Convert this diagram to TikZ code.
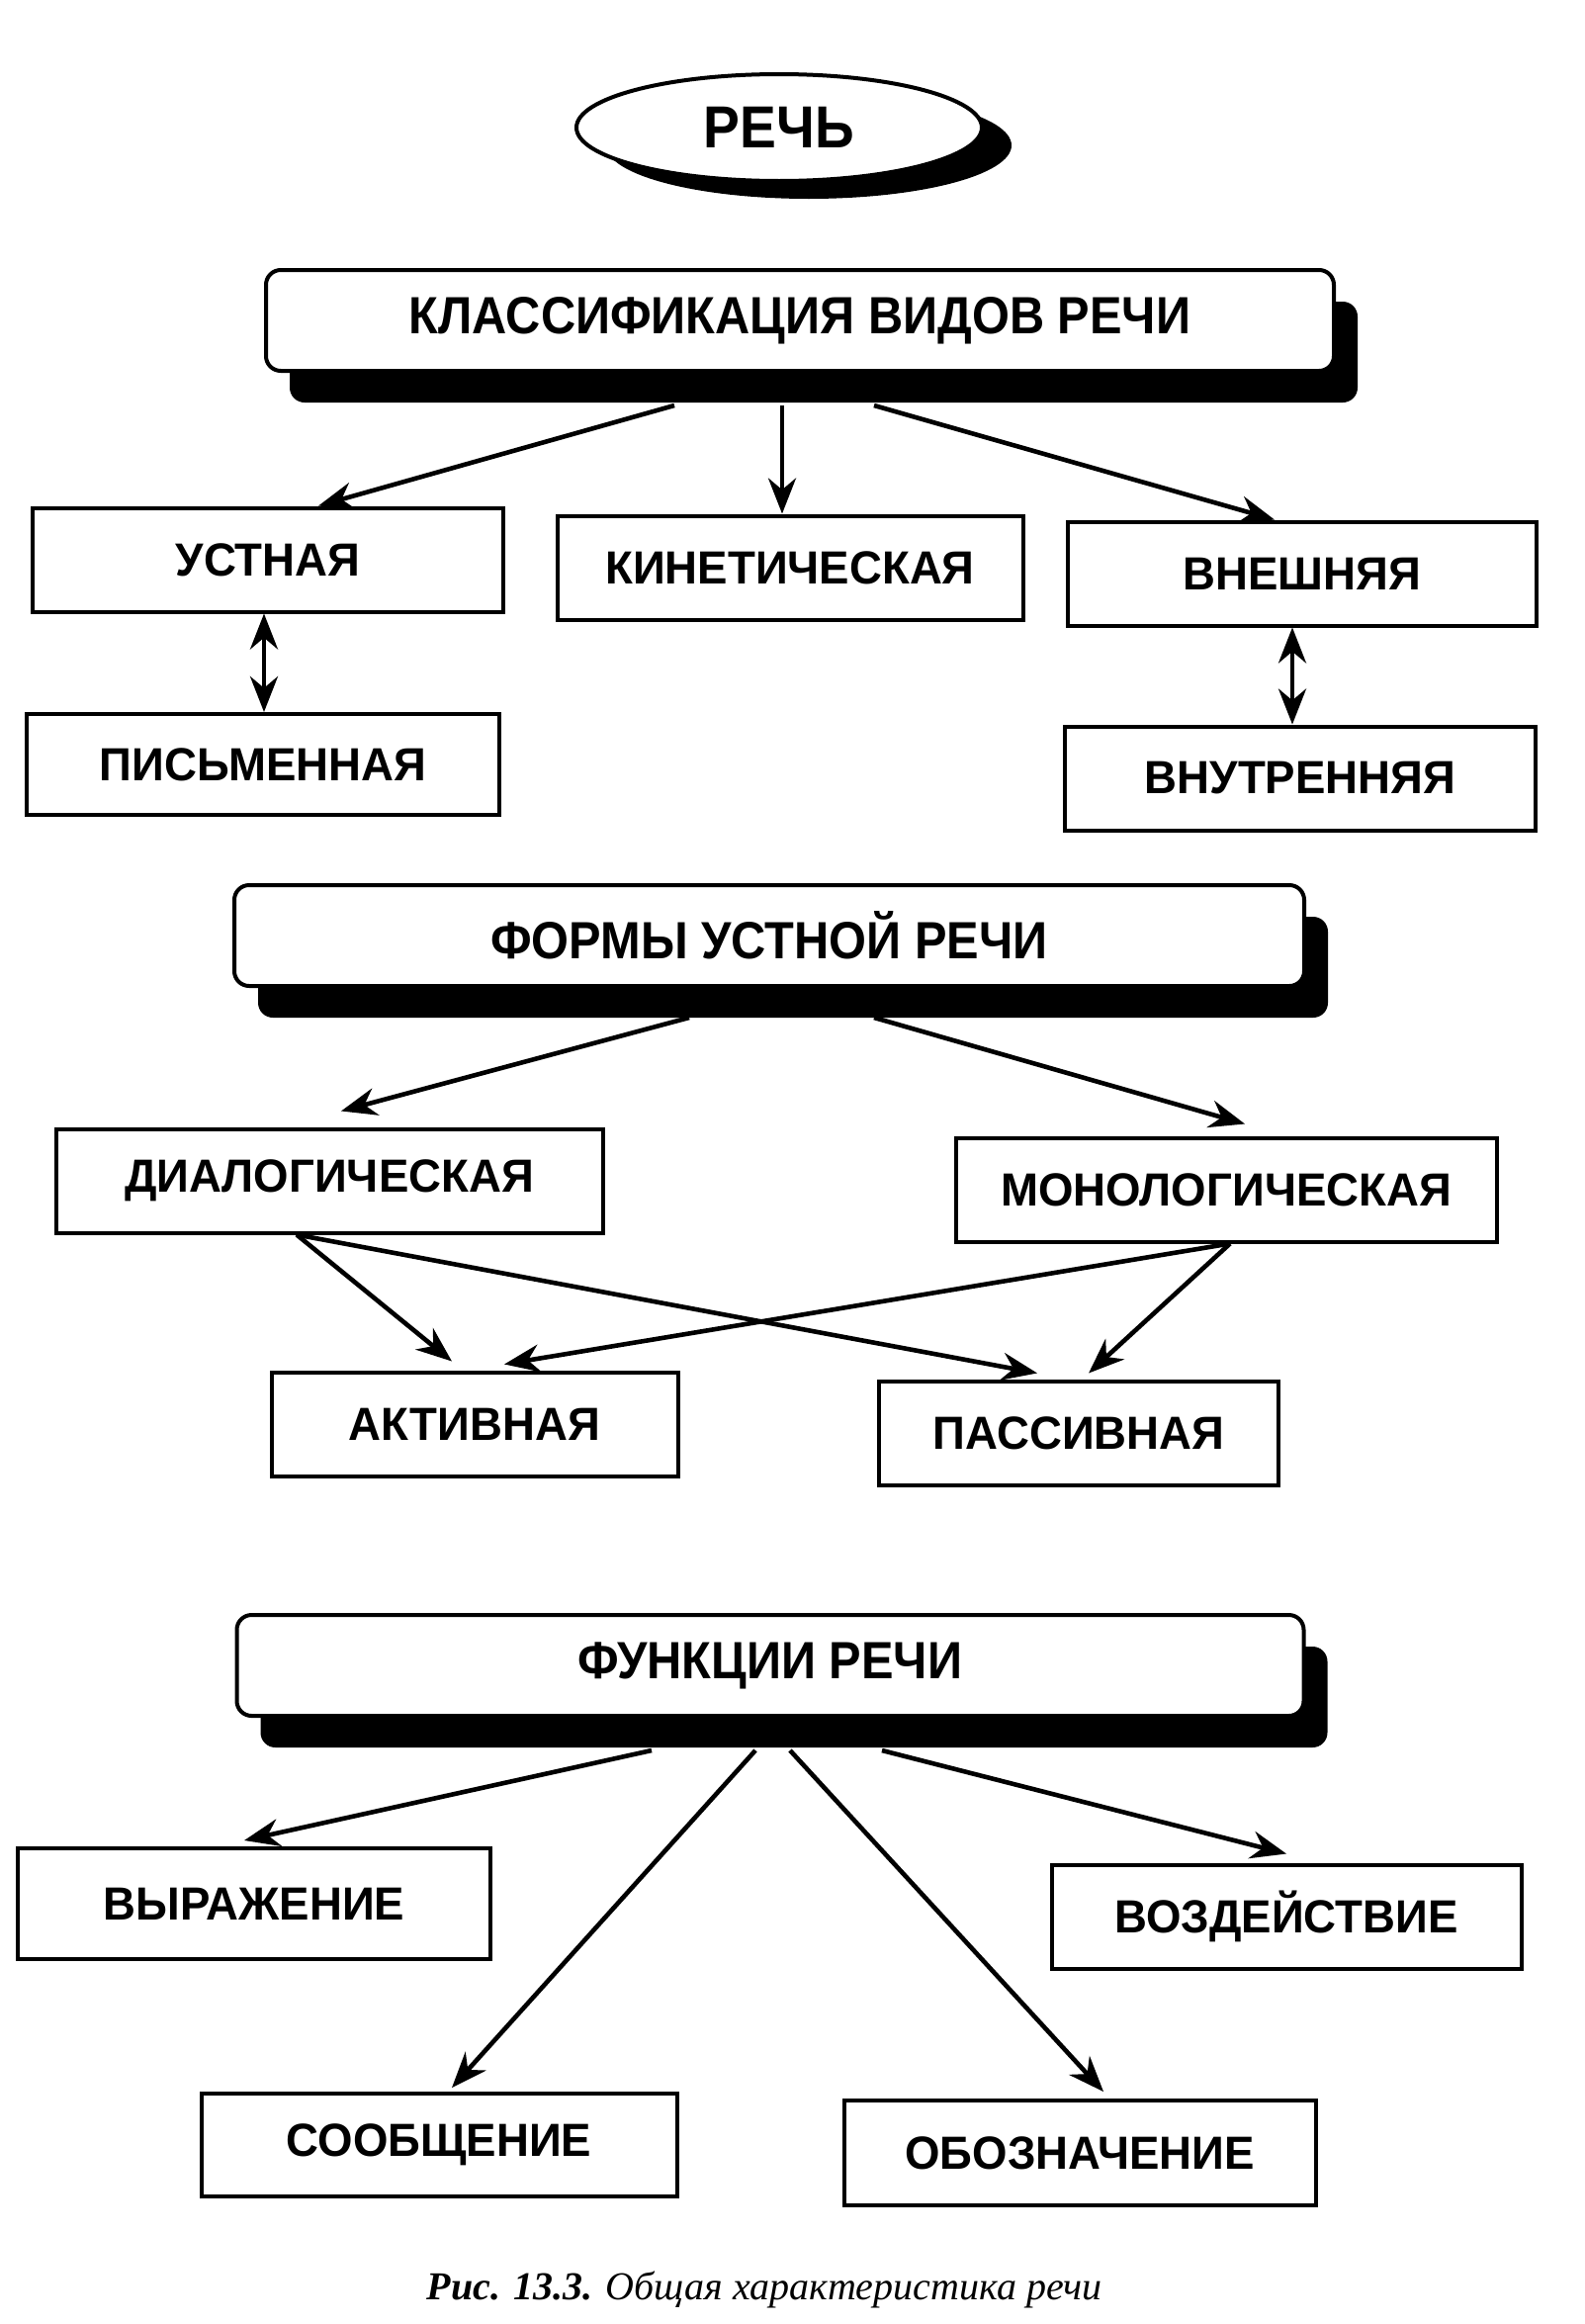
\documentclass[tikz,border=0pt]{standalone}
\usepackage{fontspec}
\setmainfont{Liberation Sans}
\newfontfamily\headfont[FakeStretch=0.92]{Liberation Sans Bold}
\newfontfamily\boxfont[FakeStretch=0.97]{Liberation Sans Bold}
\newfontfamily\capfont{Liberation Serif}
\usetikzlibrary{arrows.meta,shadows,shapes.geometric,calc}

\tikzset{
  vid/.style={draw, line width=2pt, minimum width=238pt, minimum height=52pt,
    inner sep=0pt, font=\boxfont\fontsize{23.5}{28}\selectfont},
  zag/.style={draw, line width=2pt, rounded corners=7.5pt, fill=white,
    minimum width=540pt, minimum height=51pt, inner sep=0pt,
    font=\headfont\fontsize{26.5}{30}\selectfont,
    drop shadow={shadow xshift=12pt, shadow yshift=-16pt, fill=black, opacity=1}},
  strel/.style={-{Stealth[length=18pt,width=14pt]}, line width=2.3pt},
  dvustr/.style={{Stealth[length=18pt,width=14pt]}-{Stealth[length=18pt,width=14pt]}, line width=2.3pt}
}

\begin{document}
\begin{tikzpicture}[x=0.5pt,y=0.5pt,yscale=-1]
\useasboundingbox (0,0) rectangle (1602,2350);

% Title
\node[ellipse, draw, line width=2pt, fill=white, minimum width=205pt, minimum height=54pt,
  inner sep=0pt, font=\headfont\fontsize{30}{34}\selectfont,
  drop shadow={shadow xshift=15pt, shadow yshift=-9pt, fill=black, opacity=1}] (rech) at (788,129) {РЕЧЬ};

% Classification
\node[zag] (klass) at (809,324) {КЛАССИФИКАЦИЯ ВИДОВ РЕЧИ};
\node[vid, minimum height=52.5pt] (ust) at (271,566) {УСТНАЯ};
\node[vid, minimum width=235.5pt, minimum height=52.5pt] (kin) at (799,574) {КИНЕТИЧЕСКАЯ};
\node[vid, minimum width=237pt, minimum height=52.5pt] (vnesh) at (1317,580) {ВНЕШНЯЯ};
\node[vid, minimum width=239pt, minimum height=51pt] (pis) at (266,773) {ПИСЬМЕННАЯ};
\node[vid, minimum width=238pt, minimum height=52.5pt] (vnutr) at (1315,787) {ВНУТРЕННЯЯ};

\draw[strel] ($(klass.south)+(-127,33)$) -- ($(ust.north)+(51,0)$);
\draw[strel] ($(klass.south)+(-18,33)$) -- ($(kin.north)+(-8,0)$);
\draw[strel] ($(klass.south)+(75,33)$) -- ($(vnesh.north)+(-28,0)$);
\draw[dvustr] ($(ust.south)+(-4,0)$) -- ($(pis.north)+(1,0)$);
\draw[dvustr] ($(vnesh.south)+(-10,0)$) -- ($(vnutr.north)+(-8,0)$);

% Forms of oral speech
\node[zag, minimum width=541pt] (formy) at (778,946) {ФОРМЫ УСТНОЙ РЕЧИ};
\node[vid, minimum width=276.5pt, minimum height=52.5pt] (dial) at (333,1194) {ДИАЛОГИЧЕСКАЯ};
\node[vid, minimum width=273.5pt, minimum height=52.5pt] (mono) at (1240,1203) {МОНОЛОГИЧЕСКАЯ};
\node[vid, minimum width=205.5pt, minimum height=52.5pt] (akt) at (480,1440) {АКТИВНАЯ};
\node[vid, minimum width=202pt, minimum height=52.5pt] (pass) at (1091,1449) {ПАССИВНАЯ};

\draw[strel] ($(formy.south)+(-81,30)$) -- ($(dial.north)+(12,-16)$);
\draw[strel] ($(formy.south)+(106,30)$) -- ($(mono.north)+(19,-12)$);
\draw[strel] ($(dial.south)+(-33,0)$) -- ($(akt.north)+(-23,-9)$);
\draw[strel] ($(dial.south)+(-33,0)$) -- ($(pass.north)+(-42,-6)$);
\draw[strel] ($(mono.south)+(4,0)$) -- ($(akt.north)+(30,-6)$);
\draw[strel] ($(mono.south)+(4,0)$) -- ($(pass.north)+(10,-6)$);

% Functions
\node[zag, minimum width=539.5pt] (funk) at (779,1684) {ФУНКЦИИ РЕЧИ};
\node[vid, minimum width=239pt, minimum height=56pt] (vyr) at (257,1925) {ВЫРАЖЕНИЕ};
\node[vid, minimum width=237.5pt, minimum height=52.5pt] (vozd) at (1301,1938) {ВОЗДЕЙСТВИЕ};
\node[vid, minimum width=240.5pt, minimum height=52pt] (soob) at (444,2169) {СООБЩЕНИЕ};
\node[vid, minimum width=238.5pt, minimum height=53pt] (oboz) at (1092,2177) {ОБОЗНАЧЕНИЕ};

\draw[strel] ($(funk.south)+(-120,33)$) -- ($(vyr.north)+(-10,-6)$);
\draw[strel] ($(funk.south)+(-15,33)$) -- ($(soob.north)+(13,-4)$);
\draw[strel] ($(funk.south)+(20,33)$) -- ($(oboz.north)+(24,-7)$);
\draw[strel] ($(funk.south)+(113,33)$) -- ($(vozd.north)+(0,-9)$);

% Caption
\node[font=\capfont\fontsize{20}{24}\selectfont] (podpis) at (773,2315)
  {\textbf{\textit{Рис. 13.3.}} \textit{Общая характеристика речи}};

\end{tikzpicture}
\end{document}
